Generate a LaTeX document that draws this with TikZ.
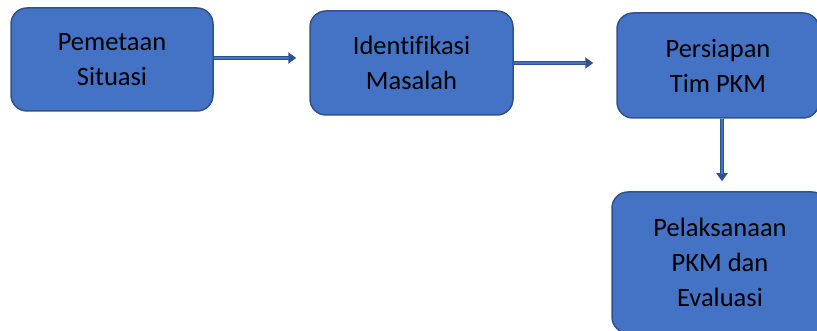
\documentclass[tikz,border=0pt]{standalone}
\usepackage{fontspec}
\setmainfont[Ligatures={NoCommon}]{Carlito}
\usepackage{tikz}
\usetikzlibrary{positioning,calc,arrows.meta}

\definecolor{boxblue}{HTML}{4472C4}
\definecolor{edgeblue}{HTML}{2F528F}

\begin{document}
\begin{tikzpicture}[x=1pt,y=-1pt,
    stage/.style={draw=edgeblue, line width=1.5pt, fill=boxblue, rounded corners=16pt,
        align=center, inner sep=0pt, font=\fontsize{26.5}{35}\selectfont},
    flowline/.style={draw=edgeblue, line width=4.5pt, -{Triangle[width=11pt,length=8pt]}},
    flowcore/.style={draw=boxblue, line width=1.6pt}]
    % page area
    \clip (0,0) rectangle (817,331);

    % stages
    \node[stage, minimum width=202pt, minimum height=103pt] (pemetaan) at (112,59.5) {Pemetaan\\Situasi};
    \node[stage, minimum width=203pt, minimum height=104pt] (identifikasi) at (411.5,63) {Identifikasi\\Masalah};
    \node[stage, minimum width=202pt, minimum height=105pt] (persiapan) at (718,65.5) {Persiapan\\Tim PKM};
    \node[stage, minimum width=216pt, minimum height=141pt] (pelaksanaan) at (720,262.5) {Pelaksanaan\\PKM dan\\Evaluasi};

    % arrows
    \coordinate (a1) at ($(pemetaan.east)+(0,-1.5)$);
    \coordinate (a2) at ($(identifikasi.east)+(0,0)$);
    \coordinate (a3) at ($(persiapan.south)+(4,0)$);
    \draw[flowline, shorten >=13pt] (a1) -- (a1 -| identifikasi.west);
    \draw[flowcore, shorten >=20pt] (a1) -- (a1 -| identifikasi.west);
    \draw[flowline, shorten >=23pt] (a2) -- (a2 -| persiapan.west);
    \draw[flowcore, shorten >=30pt] (a2) -- (a2 -| persiapan.west);
    \draw[flowline, shorten >=10pt] (a3) -- (a3 |- pelaksanaan.north);
    \draw[flowcore, shorten >=17pt] (a3) -- (a3 |- pelaksanaan.north);
\end{tikzpicture}
\end{document}
